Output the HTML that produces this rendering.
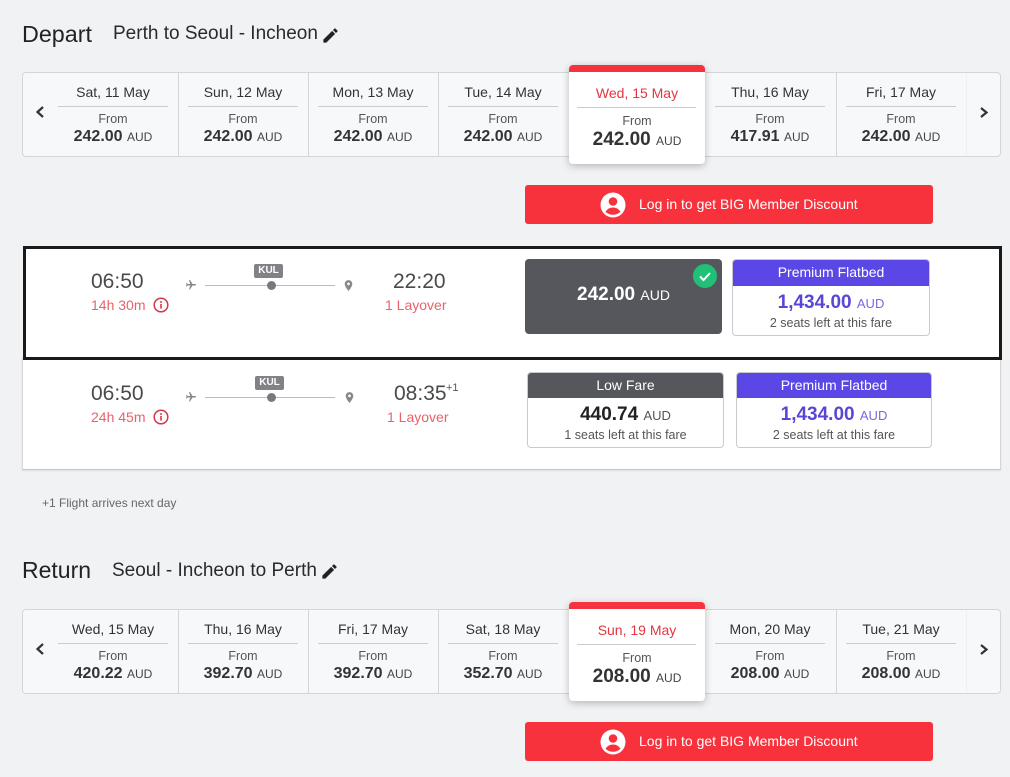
<!DOCTYPE html>
<html><head><meta charset="utf-8">
<style>
*{margin:0;padding:0;box-sizing:border-box}
body{width:1010px;height:774px;background:#f1f2f4;font-family:"Liberation Sans",Arial,sans-serif;color:#333;position:relative;overflow:hidden}
.a{position:absolute;white-space:nowrap}
.sec{position:absolute;left:0;width:1010px;height:240px}
.strip{position:absolute;left:22px;top:72px;width:979px;height:85px;background:#f7f8fa;border:1px solid #d3d5d9;border-radius:4px}
.vd{position:absolute;top:73px;width:1px;height:83px;background:#d3d5d9}
.dt{position:absolute;top:82px;width:140px;text-align:center;font-size:14px;line-height:20px;color:#333}
.ul{position:absolute;top:106px;width:110px;height:1px;background:#c9cbcf}
.fr{position:absolute;top:111px;width:140px;text-align:center;font-size:12.5px;line-height:16px;color:#555}
.pr{position:absolute;top:127px;width:140px;text-align:center;font-size:16px;line-height:20px;color:#333;font-weight:bold}
.pr span,.sp span{font-size:12px;font-weight:normal;color:#444}
.sel{position:absolute;left:569px;top:65px;width:136px;height:99px;background:#fff;border-radius:4px;box-shadow:0 2px 8px rgba(0,0,0,.25);overflow:hidden}
.sel .bar{position:absolute;left:0;top:0;width:136px;height:7px;background:#f5333f}
.btn{position:absolute;left:525px;top:185px;width:408px;height:39px;background:#f7323d;border-radius:3px}
.btn .t{position:absolute;left:114px;top:0;line-height:39px;font-size:14px;color:#fff}
.tm{position:absolute;font-size:21px;line-height:24px;color:#4a4a4a}
.du{position:absolute;font-size:14px;line-height:18px;color:#e8626b}
.kul{position:absolute;width:29px;height:14px;background:#808286;border-radius:2px;color:#fff;font-size:10px;font-weight:bold;line-height:14px;text-align:center}
.ln{position:absolute;left:205px;width:130px;height:1px;background:#b9bbbf}
.dot{position:absolute;width:9px;height:9px;border-radius:50%;background:#77797d}
.fb{position:absolute;background:#fff;border:1px solid #c8cad0;border-radius:4px;overflow:hidden}
.fh{position:absolute;left:-1px;top:-1px;right:-1px;height:27px;color:#fff;font-size:14px;line-height:27px;text-align:center}
.fp{position:absolute;left:0;right:0;text-align:center;font-size:19px;line-height:24px;font-weight:bold}
.fs{position:absolute;left:0;right:0;text-align:center;font-size:12.5px;line-height:16px;color:#555}
</style></head><body>

<!-- DEPART -->
<div class="a" style="left:22px;top:19.5px;font-size:23.3px;line-height:28px;color:#222">Depart</div>
<div class="a" style="left:113px;top:21.5px;font-size:19px;line-height:24px;color:#2a2a2a">Perth to Seoul - Incheon</div>
<svg class="a" style="left:320.5px;top:25.5px" width="19" height="19" viewBox="0 0 24 24"><path fill="#222" d="M3 17.25V21h3.75L17.81 9.940l-3.75-3.75L3 17.25zM20.71 7.04a1 1 0 000-1.41l-2.34-2.34a1 1 0 00-1.41 0l-1.83 1.83 3.75 3.75 1.83-1.830z"/></svg>

<div class="sec" style="top:0">
  <div class="strip"></div>
  <div class="vd" style="left:178px"></div><div class="vd" style="left:308px"></div><div class="vd" style="left:438px"></div><div class="vd" style="left:836px"></div><div class="vd" style="left:966px;background:#eef0f2"></div>
  <svg class="a" style="left:0;top:0" width="1010" height="160"><polyline points="43,107 37.5,112 43,117" fill="none" stroke="#333" stroke-width="2.2"/><polyline points="981,108 986.5,112.5 981,117" fill="none" stroke="#333" stroke-width="2.2"/></svg>

  <div class="dt" style="left:43px">Sat, 11 May</div><div class="ul" style="left:58px"></div><div class="fr" style="left:43px">From</div><div class="pr" style="left:43px">242.00 <span>AUD</span></div>
  <div class="dt" style="left:173px">Sun, 12 May</div><div class="ul" style="left:188px"></div><div class="fr" style="left:173px">From</div><div class="pr" style="left:173px">242.00 <span>AUD</span></div>
  <div class="dt" style="left:303px">Mon, 13 May</div><div class="ul" style="left:318px"></div><div class="fr" style="left:303px">From</div><div class="pr" style="left:303px">242.00 <span>AUD</span></div>
  <div class="dt" style="left:433px">Tue, 14 May</div><div class="ul" style="left:448px"></div><div class="fr" style="left:433px">From</div><div class="pr" style="left:433px">242.00 <span>AUD</span></div>
  <div class="dt" style="left:700px">Thu, 16 May</div><div class="ul" style="left:715px"></div><div class="fr" style="left:700px">From</div><div class="pr" style="left:700px">417.91 <span>AUD</span></div>
  <div class="dt" style="left:831px">Fri, 17 May</div><div class="ul" style="left:846px"></div><div class="fr" style="left:831px">From</div><div class="pr" style="left:831px">242.00 <span>AUD</span></div>

  <div class="sel"><div class="bar"></div>
    <div class="dt" style="left:-2px;top:18px;color:#e5343f">Wed, 15 May</div>
    <div class="ul" style="left:8px;top:42px;width:119px"></div>
    <div class="fr" style="left:-2px;top:48px">From</div>
    <div class="pr" style="left:-2px;top:63px;font-size:19px;line-height:24px;font-weight:bold">242.00 <span>AUD</span></div>
  </div>

  <div class="btn">
    <svg class="a" style="left:75px;top:7px" width="26" height="26" viewBox="0 0 26 26"><circle cx="13" cy="13" r="12.5" fill="#fff"/><circle cx="13" cy="9.5" r="4.3" fill="#f7323d"/><path d="M5.5 19.8Q8 15.5 13 15.5Q18 15.5 20.5 19.8Q17.5 22.8 13 22.8Q8.5 22.8 5.5 19.8Z" fill="#f7323d"/></svg>
    <div class="t">Log in to get BIG Member Discount</div>
  </div>
</div>

<!-- FLIGHT ROWS -->
<div class="a" style="left:22px;top:357px;width:979px;height:113px;background:#fff;border:1px solid #d5d7db;border-bottom-color:#c3c5c9;box-shadow:0 1px 2px rgba(0,0,0,.08)"></div>
<div class="a" style="left:23px;top:246px;width:979px;height:114px;background:#fff;border:3px solid #1a1a1a"></div>

<!-- row 1 -->
<div class="tm" style="left:91px;top:270px">06:50</div>
<div class="du" style="left:91px;top:295.5px">14h 30m</div>
<svg class="a" style="left:153px;top:297px" width="16" height="16" viewBox="0 0 16 16"><circle cx="8" cy="8" r="6.8" fill="none" stroke="#d4384b" stroke-width="1.5"/><rect x="7.2" y="7" width="1.6" height="4.6" fill="#d4384b"/><circle cx="8" cy="5" r="1" fill="#d4384b"/></svg>
<svg class="a" style="left:185px;top:279px" width="12" height="12" viewBox="0 0 24 24"><path transform="rotate(90 12 12)" fill="#888" d="M21 16v-2l-8-5V3.5c0-.83-.67-1.5-1.5-1.5S10 2.67 10 3.5V9l-8 5v2l8-2.5V19l-2 1.5V22l3.5-1 3.5 1v-1.5L13 19v-5.5l8 2.5z"/></svg>
<div class="ln" style="top:285px"></div>
<div class="dot" style="left:266.5px;top:280.5px"></div>
<div class="kul" style="left:254px;top:264px">KUL</div>
<svg class="a" style="left:342px;top:279px" width="13" height="13" viewBox="0 0 24 24"><path fill="#888" d="M12 2C8.13 2 5 5.13 5 9c0 5.25 7 13 7 13s7-7.75 7-13c0-3.87-3.13-7-7-7zm0 9.5a2.5 2.5 0 110-5 2.5 2.5 0 010 5z"/></svg>
<div class="tm" style="left:393px;top:270px">22:20</div>
<div class="du" style="left:385px;top:295.5px">1 Layover</div>

<div class="a" style="left:525px;top:259px;width:197px;height:75px;background:#55575c;border-radius:4px"></div>
<div class="a" style="left:525px;top:283px;width:197px;text-align:center;font-size:19px;line-height:24px;color:#fff;font-weight:bold">242.00 <span style="font-size:14px;font-weight:normal">AUD</span></div>
<svg class="a" style="left:693px;top:264px" width="24" height="24" viewBox="0 0 24 24"><circle cx="12" cy="12" r="12" fill="#21c076"/><polyline points="7,12.5 10.5,16 17,9" fill="none" stroke="#fff" stroke-width="2"/></svg>

<div class="fb" style="left:732px;top:259px;width:198px;height:77px">
  <div class="fh" style="background:#5b47e6">Premium Flatbed</div>
  <div class="fp" style="top:31px;color:#5846d6">1,434.00 <span style="font-size:13px;font-weight:normal;color:#7768df">AUD</span></div>
  <div class="fs" style="top:54.5px">2 seats left at this fare</div>
</div>

<!-- row 2 -->
<div class="tm" style="left:91px;top:382px">06:50</div>
<div class="du" style="left:91px;top:407.5px">24h 45m</div>
<svg class="a" style="left:153px;top:409px" width="16" height="16" viewBox="0 0 16 16"><circle cx="8" cy="8" r="6.8" fill="none" stroke="#d4384b" stroke-width="1.5"/><rect x="7.2" y="7" width="1.6" height="4.6" fill="#d4384b"/><circle cx="8" cy="5" r="1" fill="#d4384b"/></svg>
<svg class="a" style="left:185px;top:391px" width="12" height="12" viewBox="0 0 24 24"><path transform="rotate(90 12 12)" fill="#888" d="M21 16v-2l-8-5V3.5c0-.83-.67-1.5-1.5-1.5S10 2.67 10 3.5V9l-8 5v2l8-2.5V19l-2 1.5V22l3.5-1 3.5 1v-1.5L13 19v-5.5l8 2.5z"/></svg>
<div class="ln" style="top:397px"></div>
<div class="dot" style="left:266.5px;top:392.5px"></div>
<div class="kul" style="left:255px;top:376px">KUL</div>
<svg class="a" style="left:343px;top:391px" width="13" height="13" viewBox="0 0 24 24"><path fill="#888" d="M12 2C8.13 2 5 5.13 5 9c0 5.25 7 13 7 13s7-7.75 7-13c0-3.87-3.13-7-7-7zm0 9.5a2.5 2.5 0 110-5 2.5 2.5 0 010 5z"/></svg>
<div class="tm" style="left:394px;top:382px">08:35</div>
<div class="a" style="left:446px;top:380px;font-size:11px;line-height:16px;color:#555">+1</div>
<div class="du" style="left:387px;top:407.5px">1 Layover</div>

<div class="fb" style="left:527px;top:372px;width:197px;height:76px">
  <div class="fh" style="background:#55575c;height:26px;line-height:26px">Low Fare</div>
  <div class="fp" style="top:30px;color:#222">440.74 <span style="font-size:13px;font-weight:normal;color:#555">AUD</span></div>
  <div class="fs" style="top:53.5px">1 seats left at this fare</div>
</div>
<div class="fb" style="left:736px;top:372px;width:196px;height:76px">
  <div class="fh" style="background:#5b47e6;height:26px;line-height:26px">Premium Flatbed</div>
  <div class="fp" style="top:30px;color:#5846d6">1,434.00 <span style="font-size:13px;font-weight:normal;color:#7768df">AUD</span></div>
  <div class="fs" style="top:53.5px">2 seats left at this fare</div>
</div>

<div class="a" style="left:42px;top:495px;font-size:12px;line-height:16px;color:#666">+1 Flight arrives next day</div>

<!-- RETURN -->
<div class="a" style="left:22px;top:556px;font-size:23px;line-height:28px;color:#222">Return</div>
<div class="a" style="left:112px;top:558.5px;font-size:19px;line-height:24px;color:#2a2a2a">Seoul - Incheon to Perth</div>
<svg class="a" style="left:319.5px;top:562px" width="19" height="19" viewBox="0 0 24 24"><path fill="#222" d="M3 17.25V21h3.75L17.81 9.94l-3.75-3.75L3 17.25zM20.71 7.04a1 1 0 000-1.41l-2.34-2.34a1 1 0 00-1.41 0l-1.83 1.83 3.75 3.75 1.83-1.83z"/></svg>

<div class="sec" style="top:537px">
  <div class="strip"></div>
  <div class="vd" style="left:178px"></div><div class="vd" style="left:308px"></div><div class="vd" style="left:438px"></div><div class="vd" style="left:836px"></div><div class="vd" style="left:966px;background:#eef0f2"></div>
  <svg class="a" style="left:0;top:0" width="1010" height="160"><polyline points="43,107 37.5,112 43,117" fill="none" stroke="#333" stroke-width="2.2"/><polyline points="981,108 986.5,112.5 981,117" fill="none" stroke="#333" stroke-width="2.2"/></svg>

  <div class="dt" style="left:43px">Wed, 15 May</div><div class="ul" style="left:58px"></div><div class="fr" style="left:43px">From</div><div class="pr" style="left:43px">420.22 <span>AUD</span></div>
  <div class="dt" style="left:173px">Thu, 16 May</div><div class="ul" style="left:188px"></div><div class="fr" style="left:173px">From</div><div class="pr" style="left:173px">392.70 <span>AUD</span></div>
  <div class="dt" style="left:303px">Fri, 17 May</div><div class="ul" style="left:318px"></div><div class="fr" style="left:303px">From</div><div class="pr" style="left:303px">392.70 <span>AUD</span></div>
  <div class="dt" style="left:433px">Sat, 18 May</div><div class="ul" style="left:448px"></div><div class="fr" style="left:433px">From</div><div class="pr" style="left:433px">352.70 <span>AUD</span></div>
  <div class="dt" style="left:700px">Mon, 20 May</div><div class="ul" style="left:715px"></div><div class="fr" style="left:700px">From</div><div class="pr" style="left:700px">208.00 <span>AUD</span></div>
  <div class="dt" style="left:831px">Tue, 21 May</div><div class="ul" style="left:846px"></div><div class="fr" style="left:831px">From</div><div class="pr" style="left:831px">208.00 <span>AUD</span></div>

  <div class="sel"><div class="bar"></div>
    <div class="dt" style="left:-2px;top:18px;color:#e5343f">Sun, 19 May</div>
    <div class="ul" style="left:8px;top:42px;width:119px"></div>
    <div class="fr" style="left:-2px;top:48px">From</div>
    <div class="pr" style="left:-2px;top:63px;font-size:19px;line-height:24px;font-weight:bold">208.00 <span>AUD</span></div>
  </div>

  <div class="btn">
    <svg class="a" style="left:75px;top:7px" width="26" height="26" viewBox="0 0 26 26"><circle cx="13" cy="13" r="12.5" fill="#fff"/><circle cx="13" cy="9.5" r="4.3" fill="#f7323d"/><path d="M5.5 19.8Q8 15.5 13 15.5Q18 15.5 20.5 19.8Q17.5 22.8 13 22.8Q8.5 22.8 5.5 19.8Z" fill="#f7323d"/></svg>
    <div class="t">Log in to get BIG Member Discount</div>
  </div>
</div>

</body></html>
